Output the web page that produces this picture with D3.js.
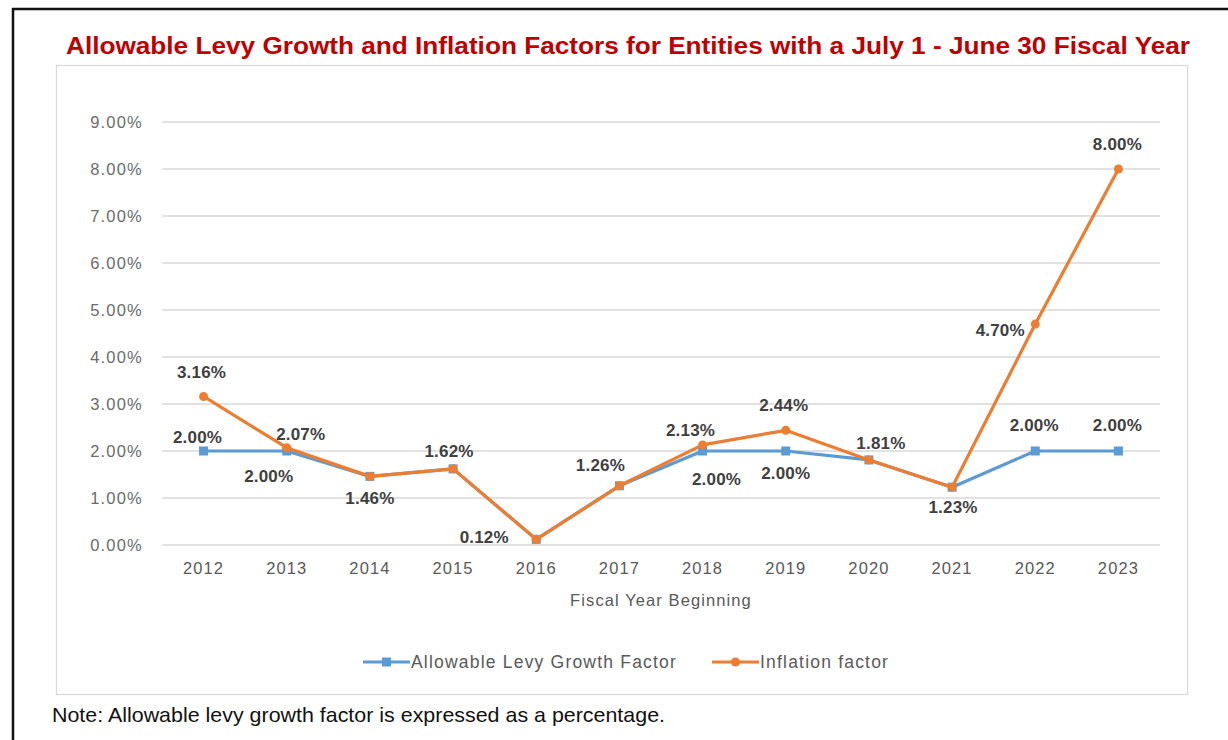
<!DOCTYPE html>
<html>
<head>
<meta charset="utf-8">
<script src="https://cdn.jsdelivr.net/npm/d3@7"></script>
<style>
  html, body { margin: 0; padding: 0; background: #fff; }
  svg { display: block; }
</style>
</head>
<body>
<svg id="chart" width="1228" height="740"></svg>
<script>
// Fiscal years and factors (percent)
const years = ["2012","2013","2014","2015","2016","2017","2018","2019","2020","2021","2022","2023"];
const levyGrowth = [2.00, 2.00, 1.46, 1.62, 0.12, 1.26, 2.00, 2.00, 1.81, 1.23, 2.00, 2.00];
const inflation  = [3.16, 2.07, 1.46, 1.62, 0.12, 1.26, 2.13, 2.44, 1.81, 1.23, 4.70, 8.00];
const yTicks = [0, 1, 2, 3, 4, 5, 6, 7, 8, 9];
const seriesNames = ["Allowable Levy Growth Factor", "Inflation factor"];

// Label offsets from each point (null = not labelled)
const levyLabelOffset = [[-6,-14],[-18,25],[0,22],null,[-52,-2],null,[14,28],[0,22],null,[1,20],[-1,-26],[-1,-26]];
const inflLabelOffset = [[-2,-24],[14,-14],null,[-4,-18],null,[-19,-21],[-12,-15],[-2,-25],[12,-17],null,[-35,6],[-1,-25]];

const FONT = "Liberation Sans, Arial, sans-serif";
const svg = d3.select("#chart");

// Outer frame
svg.append("rect").attr("x", 13).attr("y", 9).attr("width", 1240).attr("height", 760)
  .attr("fill", "none").attr("stroke", "#111").attr("stroke-width", 2.5);

// Chart area box
svg.append("rect").attr("x", 56.5).attr("y", 65.5).attr("width", 1131).attr("height", 629)
  .attr("fill", "#fff").attr("stroke", "#d9d9d9").attr("stroke-width", 1.2);

// Title
svg.append("text").attr("x", 66).attr("y", 54)
  .attr("font-family", FONT).attr("font-weight", "bold")
  .attr("font-size", 23.5).attr("fill", "#c00000")
  .attr("textLength", 1124).attr("lengthAdjust", "spacingAndGlyphs")
  .text("Allowable Levy Growth and Inflation Factors for Entities with a July 1 - June 30 Fiscal Year");

const x = d3.scaleBand().domain(years).range([162, 1160]);
const y = d3.scaleLinear().domain([0, 9]).range([545, 122]);
const cx = d => x(d) + x.bandwidth() / 2;

// Gridlines
svg.append("g").attr("class", "grid")
  .selectAll("line").data(yTicks).join("line")
  .attr("x1", 162).attr("x2", 1160)
  .attr("y1", d => y(d)).attr("y2", d => y(d))
  .attr("stroke", "#d9d9d9").attr("stroke-width", 1.3);

// Y axis
const yAxis = d3.axisLeft(y).tickValues(yTicks).tickFormat(d => d.toFixed(2) + "%").tickSize(0).tickPadding(0);
const gy = svg.append("g").attr("transform", "translate(143,0)").call(yAxis);
gy.select(".domain").remove();
gy.selectAll("text").attr("font-family", FONT)
  .attr("font-size", 16.5).attr("fill", "#6b6b6b").attr("letter-spacing", "1.2");

// X axis
const xAxis = d3.axisBottom(x).tickSize(0).tickPadding(0);
const gx = svg.append("g").attr("transform", "translate(0,562)").call(xAxis);
gx.select(".domain").remove();
gx.selectAll("text").attr("font-family", FONT)
  .attr("font-size", 16.5).attr("fill", "#595959").attr("letter-spacing", "1.1");

svg.append("text").attr("x", 661).attr("y", 606).attr("text-anchor", "middle")
  .attr("font-family", FONT).attr("font-size", 16.5).attr("fill", "#595959")
  .attr("letter-spacing", "1.1")
  .text("Fiscal Year Beginning");

const blue = "#5b9bd5", orange = "#ed7d31";

const line = d3.line().x((d, i) => cx(years[i])).y(d => y(d));

// Levy growth series
svg.append("path").datum(levyGrowth).attr("d", line)
  .attr("fill", "none").attr("stroke", blue).attr("stroke-width", 3.2).attr("stroke-linejoin", "round");
svg.append("g").selectAll("rect").data(levyGrowth).join("rect")
  .attr("x", (d, i) => cx(years[i]) - 4.5).attr("y", d => y(d) - 4.5)
  .attr("width", 9).attr("height", 9).attr("fill", blue);

// Inflation series
svg.append("path").datum(inflation).attr("d", line)
  .attr("fill", "none").attr("stroke", orange).attr("stroke-width", 3.2).attr("stroke-linejoin", "round");
svg.append("g").selectAll("circle").data(inflation).join("circle")
  .attr("cx", (d, i) => cx(years[i])).attr("cy", d => y(d)).attr("r", 4.5).attr("fill", orange);

// Data labels
function labels(values, offsets) {
  const items = values.map((v, i) => ({ v, i, o: offsets[i] })).filter(d => d.o);
  svg.append("g").selectAll("text").data(items).join("text")
    .attr("x", d => cx(years[d.i]) + d.o[0])
    .attr("y", d => y(d.v) + d.o[1])
    .attr("dy", "0.35em")
    .attr("text-anchor", "middle")
    .attr("font-family", FONT).attr("font-weight", "bold")
    .attr("font-size", 17).attr("fill", "#404040").attr("letter-spacing", "0.2")
    .text(d => d.v.toFixed(2) + "%");
}
labels(levyGrowth, levyLabelOffset);
labels(inflation, inflLabelOffset);

// Legend
const legend = [
  { name: seriesNames[0], color: blue, shape: "square", x: 363 },
  { name: seriesNames[1], color: orange, shape: "circle", x: 712 }
];
const lg = svg.append("g").selectAll("g").data(legend).join("g")
  .attr("transform", d => `translate(${d.x},662)`);
lg.append("line").attr("x1", 0).attr("x2", 47).attr("y1", 0).attr("y2", 0)
  .attr("stroke", d => d.color).attr("stroke-width", 3.2);
lg.filter(d => d.shape === "square").append("rect")
  .attr("x", 19).attr("y", -4.5).attr("width", 9).attr("height", 9).attr("fill", d => d.color);
lg.filter(d => d.shape === "circle").append("circle")
  .attr("cx", 23.5).attr("cy", 0).attr("r", 4.5).attr("fill", d => d.color);
lg.append("text").attr("x", 48).attr("y", 0).attr("dy", "0.35em")
  .attr("font-family", FONT).attr("font-size", 17.5).attr("fill", "#595959")
  .attr("letter-spacing", "1.2")
  .text(d => d.name);

// Footnote
svg.append("text").attr("x", 52).attr("y", 722)
  .attr("font-family", FONT).attr("font-size", 21).attr("fill", "#111")
  .attr("textLength", 613).attr("lengthAdjust", "spacingAndGlyphs")
  .text("Note: Allowable levy growth factor is expressed as a percentage.");
</script>
</body>
</html>
